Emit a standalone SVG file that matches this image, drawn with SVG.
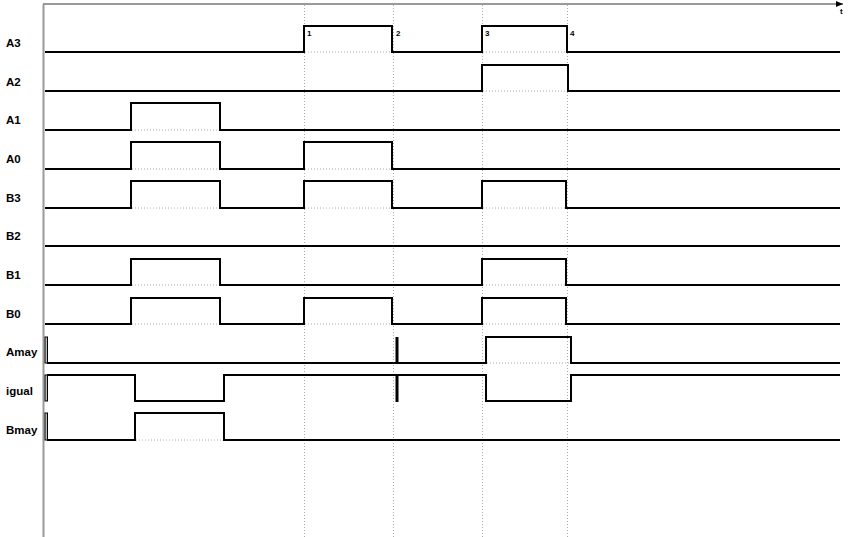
<svg xmlns="http://www.w3.org/2000/svg" width="848" height="537" viewBox="0 0 848 537">
<style>
.lbl{font-family:"Liberation Sans",Arial,sans-serif;font-size:11.5px;font-weight:bold;fill:#000}
.num{font-family:"Liberation Sans",Arial,sans-serif;font-size:8px;font-weight:bold;fill:#000}
.sig{fill:none;stroke:#000;stroke-width:2}
.grid{stroke:#aaa;stroke-width:1;stroke-dasharray:1,2;fill:none}
.axis{stroke:#999;stroke-width:2;fill:none}
.spike{stroke:#000;stroke-width:3}
.hatch{fill:#bbb;stroke:#000;stroke-width:1}
</style>
<defs>
<marker id="arr" markerWidth="8" markerHeight="8" refX="7" refY="4" orient="auto" markerUnits="userSpaceOnUse">
<path d="M0,1 L7,4 L0,7 Z" fill="#000"/>
</marker>
</defs>
<rect width="848" height="537" fill="#fff"/>
<g id="axes">
<line class="axis" x1="43" y1="4" x2="843" y2="4" marker-end="url(#arr)"/>
<line class="axis" x1="43.5" y1="4" x2="43.5" y2="537"/>
<text class="num" x="840" y="14">t</text>
</g>
<g id="gridlines">
<line class="grid" x1="304.5" y1="5" x2="304.5" y2="537"/>
<line class="grid" x1="393.5" y1="5" x2="393.5" y2="537"/>
<line class="grid" x1="482.5" y1="5" x2="482.5" y2="537"/>
<line class="grid" x1="567.5" y1="5" x2="567.5" y2="537"/>
<path class="grid" d="M305,52H392M483,52H566M483,91H567M132,130H220M132,169H220M305,169H392M132,208H220M305,208H392M483,208H566M132,285H220M483,285H566M132,324H220M305,324H392M483,324H566M487,363H571M136,401H224M487,401H571M136,440H224"/>
</g>
<g id="labels">
<text class="lbl" x="6" y="47">A3</text>
<text class="lbl" x="6" y="86">A2</text>
<text class="lbl" x="6" y="124">A1</text>
<text class="lbl" x="6" y="163">A0</text>
<text class="lbl" x="6" y="202">B3</text>
<text class="lbl" x="6" y="240">B2</text>
<text class="lbl" x="6" y="279">B1</text>
<text class="lbl" x="6" y="318">B0</text>
<text class="lbl" x="6" y="356">Amay</text>
<text class="lbl" x="6" y="395">igual</text>
<text class="lbl" x="6" y="434">Bmay</text>
<text class="num" x="307" y="36">1</text>
<text class="num" x="396" y="36">2</text>
<text class="num" x="485" y="36">3</text>
<text class="num" x="570" y="36">4</text>
</g>
<g id="signals">
<path id="A3" class="sig" d="M45,52H304V26H392V52H482V26H567V52H840"/>
<path id="A2" class="sig" d="M45,91H482V65H568V91H840"/>
<path id="A1" class="sig" d="M45,130H131V103H220V130H840"/>
<path id="A0" class="sig" d="M45,169H131V142H220V169H304V142H392V169H840"/>
<path id="B3" class="sig" d="M45,208H131V181H220V208H304V181H392V208H482V181H566V208H840"/>
<path id="B2" class="sig" d="M45,246H840"/>
<path id="B1" class="sig" d="M45,285H131V259H220V285H482V259H566V285H840"/>
<path id="B0" class="sig" d="M45,324H131V298H220V324H304V298H392V324H482V298H566V324H840"/>
<g id="Amay">
<rect class="hatch" x="45" y="337" width="2.5" height="26"/>
<path class="sig" d="M47,363H486V337H571V363H840"/>
<line class="spike" x1="397" y1="337" x2="397" y2="363"/>
</g>
<g id="igual">
<rect class="hatch" x="45" y="375" width="2.5" height="26"/>
<path class="sig" d="M47,375H135V401H224V375H486V401H571V375H840"/>
<line class="spike" x1="397" y1="375" x2="397" y2="402"/>
</g>
<g id="Bmay">
<rect class="hatch" x="45" y="413" width="2.5" height="27"/>
<path class="sig" d="M47,440H135V413H224V440H840"/>
</g>
</g>
</svg>
